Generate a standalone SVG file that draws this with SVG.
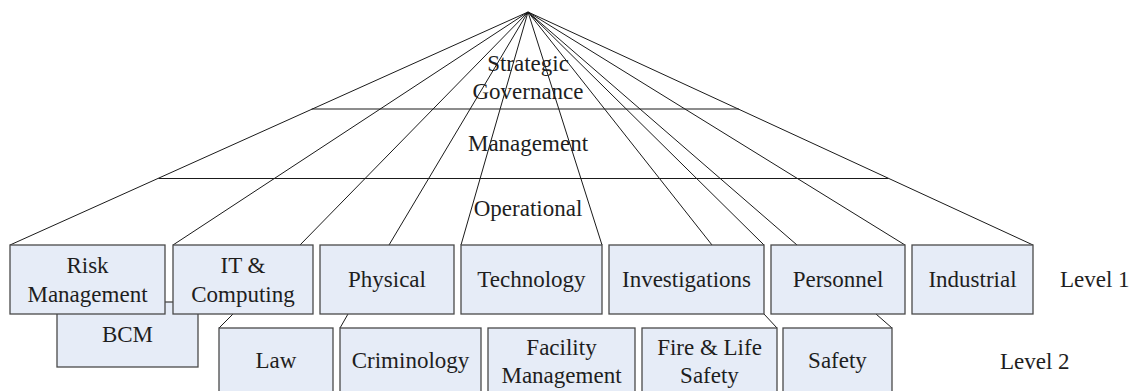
<svg xmlns="http://www.w3.org/2000/svg" width="1130" height="391" viewBox="0 0 1130 391">
<style>
.box{fill:#e6ecf7;stroke:#4a4a4a;stroke-width:1.3}
.ln{stroke:#1a1a1a;stroke-width:1;fill:none}
text{font-family:'Times New Roman','Liberation Serif','DejaVu Serif',serif;font-size:23px;fill:#1e1e1e}
.t{text-anchor:middle}
</style>
<rect width="1130" height="391" fill="#ffffff"/>
<g id="connectors">
<line class="ln" x1="528" y1="12" x2="10" y2="245"/>
<line class="ln" x1="528" y1="12" x2="173" y2="245"/>
<line class="ln" x1="528" y1="12" x2="300" y2="245"/>
<line class="ln" x1="528" y1="12" x2="389" y2="245"/>
<line class="ln" x1="528" y1="12" x2="461" y2="245"/>
<line class="ln" x1="528" y1="12" x2="602" y2="245"/>
<line class="ln" x1="528" y1="12" x2="712" y2="245"/>
<line class="ln" x1="528" y1="12" x2="764" y2="245"/>
<line class="ln" x1="528" y1="12" x2="797" y2="245"/>
<line class="ln" x1="528" y1="12" x2="905" y2="245"/>
<line class="ln" x1="528" y1="12" x2="1033" y2="245"/>
<line class="ln" x1="311.7" y1="109" x2="738.9" y2="109"/>
<line class="ln" x1="158.5" y1="178.5" x2="888.3" y2="178.5"/>
<line class="ln" x1="233" y1="314" x2="219" y2="328"/>
<line class="ln" x1="348" y1="314" x2="340" y2="328"/>
<line class="ln" x1="764" y1="314" x2="777" y2="328"/>
<line class="ln" x1="876" y1="314" x2="892" y2="328"/>
</g>
<g id="tiers">
<text class="t" x="528" y="71">Strategic</text>
<text class="t" x="528" y="99">Governance</text>
<text class="t" x="528" y="151">Management</text>
<text class="t" x="528" y="216">Operational</text>
</g>
<g id="bcm">
<rect class="box" x="57" y="302" width="141" height="65"/>
<text class="t" x="127.5" y="342">BCM</text>
</g>
<g id="risk">
<rect class="box" x="10" y="245" width="155" height="69"/>
<text class="t" x="87.5" y="273">Risk</text>
<text class="t" x="87.5" y="301.5">Management</text>
</g>
<g id="it">
<rect class="box" x="173" y="245" width="140" height="69"/>
<text class="t" x="243" y="273">IT &amp;</text>
<text class="t" x="243" y="301.5">Computing</text>
</g>
<g id="physical">
<rect class="box" x="320" y="245" width="134" height="69"/>
<text class="t" x="387" y="287">Physical</text>
</g>
<g id="technology">
<rect class="box" x="461" y="245" width="141" height="69"/>
<text class="t" x="531.5" y="287">Technology</text>
</g>
<g id="investigations">
<rect class="box" x="609" y="245" width="155" height="69"/>
<text class="t" x="686.5" y="287">Investigations</text>
</g>
<g id="personnel">
<rect class="box" x="771" y="245" width="134" height="69"/>
<text class="t" x="838" y="287">Personnel</text>
</g>
<g id="industrial">
<rect class="box" x="912" y="245" width="121" height="69"/>
<text class="t" x="972.5" y="287">Industrial</text>
</g>
<g id="law">
<rect class="box" x="219" y="328" width="114" height="69"/>
<text class="t" x="276" y="368">Law</text>
</g>
<g id="criminology">
<rect class="box" x="340" y="328" width="141" height="69"/>
<text class="t" x="410.5" y="368">Criminology</text>
</g>
<g id="facility">
<rect class="box" x="488" y="328" width="147" height="69"/>
<text class="t" x="561.5" y="355">Facility</text>
<text class="t" x="561.5" y="383">Management</text>
</g>
<g id="fire">
<rect class="box" x="642" y="328" width="135" height="69"/>
<text class="t" x="709.5" y="355">Fire &amp; Life</text>
<text class="t" x="709.5" y="383">Safety</text>
</g>
<g id="safety">
<rect class="box" x="783" y="328" width="109" height="69"/>
<text class="t" x="837.5" y="368">Safety</text>
</g>
<g id="levels">
<text x="1060" y="287">Level 1</text>
<text x="1000" y="369">Level 2</text>
</g>
</svg>
